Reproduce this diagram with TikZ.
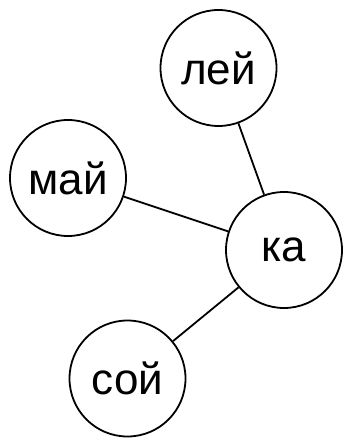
\documentclass[tikz,border=0pt]{standalone}
\usepackage{fontspec}
\setmainfont{Liberation Sans}
\usetikzlibrary{positioning}

\begin{document}
\begin{tikzpicture}[
      x=0.5pt, y=-0.5pt,
      word/.style={draw, circle, line width=0.9pt, minimum size=58pt, inner sep=0pt, font=\fontsize{22}{26}\selectfont},
      link/.style={line width=0.9pt}
    ]
    \useasboundingbox (0,0) rectangle (345,438);
    \node[word] (ley) at (218.5,68) {лей};
    \node[word] (may) at (68,178) {май};
    \node[word] (ka) at (284,250) {ка};
    \node[word] (soy) at (127.5,378.5) {сой};
    \foreach \wfrom in {ley,may,soy}{%
      \draw[link] (\wfrom) -- (ka);
    }
  \end{tikzpicture}
\end{document}
